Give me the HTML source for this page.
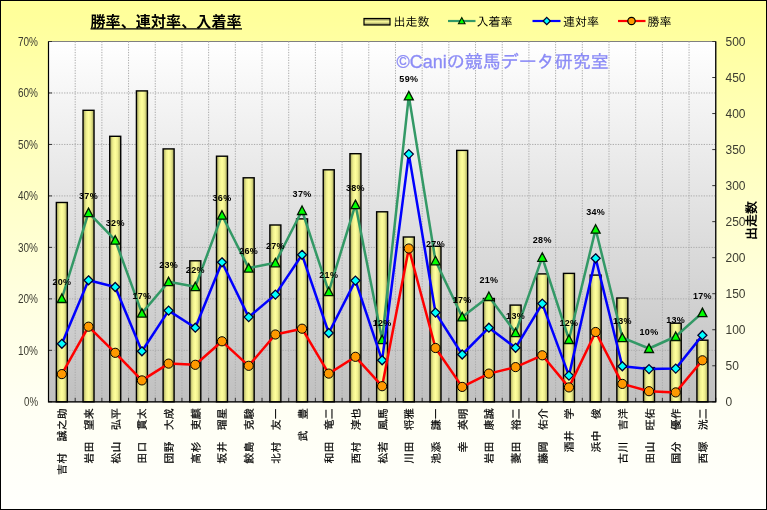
<!DOCTYPE html>
<html lang="ja"><head><meta charset="utf-8"><title>勝率、連対率、入着率</title>
<style>
html,body{margin:0;padding:0;background:#fff;}
body{width:767px;height:510px;overflow:hidden;position:relative;font-family:"Liberation Sans","IPAGothic","Noto Sans CJK JP",sans-serif;}
#chart{position:absolute;left:0;top:0;width:767px;height:510px;box-sizing:border-box;border:1px solid #000;background:linear-gradient(to bottom,#ffff99 0px,#ffff9c 20px,#ffffb2 100px,#ffffc9 200px,#ffffde 290px,#fffff3 400px,#fffffc 510px);}
svg{position:absolute;left:-1px;top:-1px;}
.ax{font-family:"Liberation Sans",sans-serif;font-size:12px;fill:#3c3c30;}
.cat{font-family:"IPAGothic","Noto Sans CJK JP",sans-serif;font-size:11px;letter-spacing:0.15px;fill:#000;stroke:#000;stroke-width:0.2px;}
.dl{font-family:"Liberation Sans",sans-serif;font-size:9px;font-weight:bold;fill:#000;letter-spacing:0.3px;}
.lg{font-family:"IPAGothic","Noto Sans CJK JP",sans-serif;font-size:12px;fill:#000;}
.ttl{font-family:"Noto Sans CJK JP","IPAGothic",sans-serif;font-size:15px;font-weight:bold;fill:#000;}
.wm{font-family:"Liberation Sans","IPAGothic","Noto Sans CJK JP",sans-serif;font-size:18px;fill:#8c8cf6;stroke:#8c8cf6;stroke-width:0.3px;}
.yt{font-family:"IPAGothic","Noto Sans CJK JP",sans-serif;font-size:13px;font-weight:bold;fill:#000;}
</style></head><body><div id="chart">
<svg width="767" height="510" viewBox="0 0 767 510">
<defs>
<linearGradient id="pg" x1="0" y1="0" x2="0" y2="1"><stop offset="0" stop-color="#ffffff"/><stop offset="1" stop-color="#c0c0c0"/></linearGradient>
<linearGradient id="bg" x1="0" y1="0" x2="1" y2="0"><stop offset="0" stop-color="#a0a05a"/><stop offset="0.28" stop-color="#eeee8e"/><stop offset="0.5" stop-color="#ffff9c"/><stop offset="0.72" stop-color="#eeee8e"/><stop offset="1" stop-color="#a0a05a"/></linearGradient>
<linearGradient id="lgb" x1="0" y1="0" x2="0" y2="1"><stop offset="0" stop-color="#77774a"/><stop offset="0.5" stop-color="#ffff9c"/><stop offset="1" stop-color="#77774a"/></linearGradient>
</defs>
<rect x="48.5" y="41.5" width="667.25" height="360.30" fill="url(#pg)" stroke="#808080" stroke-width="1"/>
<path d="M75.19 41.5V401.8M101.88 41.5V401.8M128.57 41.5V401.8M155.26 41.5V401.8M181.95 41.5V401.8M208.64 41.5V401.8M235.33 41.5V401.8M262.02 41.5V401.8M288.71 41.5V401.8M315.40 41.5V401.8M342.09 41.5V401.8M368.78 41.5V401.8M395.47 41.5V401.8M422.16 41.5V401.8M448.85 41.5V401.8M475.54 41.5V401.8M502.23 41.5V401.8M528.92 41.5V401.8M555.61 41.5V401.8M582.30 41.5V401.8M608.99 41.5V401.8M635.68 41.5V401.8M662.37 41.5V401.8M689.06 41.5V401.8M48.5 350.33H715.75M48.5 298.86H715.75M48.5 247.39H715.75M48.5 195.91H715.75M48.5 144.44H715.75M48.5 92.97H715.75" stroke="#ababab" stroke-width="1" stroke-dasharray="1.3 1.3" fill="none"/>
<rect x="56.34" y="202.50" width="11" height="199.30" fill="url(#bg)" stroke="#000" stroke-width="1.4"/>
<rect x="83.03" y="110.30" width="11" height="291.50" fill="url(#bg)" stroke="#000" stroke-width="1.4"/>
<rect x="109.73" y="136.30" width="11" height="265.50" fill="url(#bg)" stroke="#000" stroke-width="1.4"/>
<rect x="136.42" y="90.90" width="11" height="310.90" fill="url(#bg)" stroke="#000" stroke-width="1.4"/>
<rect x="163.11" y="148.90" width="11" height="252.90" fill="url(#bg)" stroke="#000" stroke-width="1.4"/>
<rect x="189.80" y="260.80" width="11" height="141.00" fill="url(#bg)" stroke="#000" stroke-width="1.4"/>
<rect x="216.49" y="156.20" width="11" height="245.60" fill="url(#bg)" stroke="#000" stroke-width="1.4"/>
<rect x="243.18" y="177.80" width="11" height="224.00" fill="url(#bg)" stroke="#000" stroke-width="1.4"/>
<rect x="269.87" y="225.00" width="11" height="176.80" fill="url(#bg)" stroke="#000" stroke-width="1.4"/>
<rect x="296.56" y="218.90" width="11" height="182.90" fill="url(#bg)" stroke="#000" stroke-width="1.4"/>
<rect x="323.25" y="169.80" width="11" height="232.00" fill="url(#bg)" stroke="#000" stroke-width="1.4"/>
<rect x="349.94" y="153.70" width="11" height="248.10" fill="url(#bg)" stroke="#000" stroke-width="1.4"/>
<rect x="376.62" y="211.80" width="11" height="190.00" fill="url(#bg)" stroke="#000" stroke-width="1.4"/>
<rect x="403.31" y="237.00" width="11" height="164.80" fill="url(#bg)" stroke="#000" stroke-width="1.4"/>
<rect x="430.00" y="246.30" width="11" height="155.50" fill="url(#bg)" stroke="#000" stroke-width="1.4"/>
<rect x="456.69" y="150.40" width="11" height="251.40" fill="url(#bg)" stroke="#000" stroke-width="1.4"/>
<rect x="483.39" y="298.50" width="11" height="103.30" fill="url(#bg)" stroke="#000" stroke-width="1.4"/>
<rect x="510.08" y="305.10" width="11" height="96.70" fill="url(#bg)" stroke="#000" stroke-width="1.4"/>
<rect x="536.77" y="273.90" width="11" height="127.90" fill="url(#bg)" stroke="#000" stroke-width="1.4"/>
<rect x="563.46" y="273.40" width="11" height="128.40" fill="url(#bg)" stroke="#000" stroke-width="1.4"/>
<rect x="590.14" y="275.10" width="11" height="126.70" fill="url(#bg)" stroke="#000" stroke-width="1.4"/>
<rect x="616.84" y="298.00" width="11" height="103.80" fill="url(#bg)" stroke="#000" stroke-width="1.4"/>
<rect x="643.52" y="367.60" width="11" height="34.20" fill="url(#bg)" stroke="#000" stroke-width="1.4"/>
<rect x="670.22" y="323.20" width="11" height="78.60" fill="url(#bg)" stroke="#000" stroke-width="1.4"/>
<rect x="696.91" y="340.20" width="11" height="61.60" fill="url(#bg)" stroke="#000" stroke-width="1.4"/>
<path d="M48.5 401.80h3.5M48.5 350.33h3.5M48.5 298.86h3.5M48.5 247.39h3.5M48.5 195.91h3.5M48.5 144.44h3.5M48.5 92.97h3.5M48.5 41.50h3.5M715.75 401.80h-3.5M715.75 365.77h-3.5M715.75 329.74h-3.5M715.75 293.71h-3.5M715.75 257.68h-3.5M715.75 221.65h-3.5M715.75 185.62h-3.5M715.75 149.59h-3.5M715.75 113.56h-3.5M715.75 77.53h-3.5M715.75 41.50h-3.5M48.50 401.8v-4M75.19 401.8v-4M101.88 401.8v-4M128.57 401.8v-4M155.26 401.8v-4M181.95 401.8v-4M208.64 401.8v-4M235.33 401.8v-4M262.02 401.8v-4M288.71 401.8v-4M315.40 401.8v-4M342.09 401.8v-4M368.78 401.8v-4M395.47 401.8v-4M422.16 401.8v-4M448.85 401.8v-4M475.54 401.8v-4M502.23 401.8v-4M528.92 401.8v-4M555.61 401.8v-4M582.30 401.8v-4M608.99 401.8v-4M635.68 401.8v-4M662.37 401.8v-4M689.06 401.8v-4M715.75 401.8v-4" stroke="#333" stroke-width="1" fill="none"/>
<path d="M48.5 41.5V401.8H715.75V41.5" stroke="#000" stroke-width="1.2" fill="none"/>
<polyline points="61.84,298.50 88.53,212.60 115.23,240.20 141.92,313.10 168.61,281.70 195.30,286.70 221.99,215.20 248.68,268.10 275.37,262.80 302.06,210.50 328.75,291.70 355.44,204.60 382.12,339.70 408.81,95.90 435.50,260.80 462.19,316.90 488.89,296.50 515.58,332.70 542.27,257.30 568.96,339.50 595.64,229.20 622.34,337.70 649.02,348.50 675.72,336.50 702.41,312.60" fill="none" stroke="#339966" stroke-width="2.5" stroke-linejoin="round"/>
<path d="M61.84 294.00L66.34 302.50H57.34Z" fill="#00ff00" stroke="#001a00" stroke-width="1.3" stroke-linejoin="miter"/>
<path d="M88.53 208.10L93.03 216.60H84.03Z" fill="#00ff00" stroke="#001a00" stroke-width="1.3" stroke-linejoin="miter"/>
<path d="M115.23 235.70L119.73 244.20H110.73Z" fill="#00ff00" stroke="#001a00" stroke-width="1.3" stroke-linejoin="miter"/>
<path d="M141.92 308.60L146.42 317.10H137.42Z" fill="#00ff00" stroke="#001a00" stroke-width="1.3" stroke-linejoin="miter"/>
<path d="M168.61 277.20L173.11 285.70H164.11Z" fill="#00ff00" stroke="#001a00" stroke-width="1.3" stroke-linejoin="miter"/>
<path d="M195.30 282.20L199.80 290.70H190.80Z" fill="#00ff00" stroke="#001a00" stroke-width="1.3" stroke-linejoin="miter"/>
<path d="M221.99 210.70L226.49 219.20H217.49Z" fill="#00ff00" stroke="#001a00" stroke-width="1.3" stroke-linejoin="miter"/>
<path d="M248.68 263.60L253.18 272.10H244.18Z" fill="#00ff00" stroke="#001a00" stroke-width="1.3" stroke-linejoin="miter"/>
<path d="M275.37 258.30L279.87 266.80H270.87Z" fill="#00ff00" stroke="#001a00" stroke-width="1.3" stroke-linejoin="miter"/>
<path d="M302.06 206.00L306.56 214.50H297.56Z" fill="#00ff00" stroke="#001a00" stroke-width="1.3" stroke-linejoin="miter"/>
<path d="M328.75 287.20L333.25 295.70H324.25Z" fill="#00ff00" stroke="#001a00" stroke-width="1.3" stroke-linejoin="miter"/>
<path d="M355.44 200.10L359.94 208.60H350.94Z" fill="#00ff00" stroke="#001a00" stroke-width="1.3" stroke-linejoin="miter"/>
<path d="M382.12 335.20L386.62 343.70H377.62Z" fill="#00ff00" stroke="#001a00" stroke-width="1.3" stroke-linejoin="miter"/>
<path d="M408.81 91.40L413.31 99.90H404.31Z" fill="#00ff00" stroke="#001a00" stroke-width="1.3" stroke-linejoin="miter"/>
<path d="M435.50 256.30L440.00 264.80H431.00Z" fill="#00ff00" stroke="#001a00" stroke-width="1.3" stroke-linejoin="miter"/>
<path d="M462.19 312.40L466.69 320.90H457.69Z" fill="#00ff00" stroke="#001a00" stroke-width="1.3" stroke-linejoin="miter"/>
<path d="M488.89 292.00L493.39 300.50H484.39Z" fill="#00ff00" stroke="#001a00" stroke-width="1.3" stroke-linejoin="miter"/>
<path d="M515.58 328.20L520.08 336.70H511.08Z" fill="#00ff00" stroke="#001a00" stroke-width="1.3" stroke-linejoin="miter"/>
<path d="M542.27 252.80L546.77 261.30H537.77Z" fill="#00ff00" stroke="#001a00" stroke-width="1.3" stroke-linejoin="miter"/>
<path d="M568.96 335.00L573.46 343.50H564.46Z" fill="#00ff00" stroke="#001a00" stroke-width="1.3" stroke-linejoin="miter"/>
<path d="M595.64 224.70L600.14 233.20H591.14Z" fill="#00ff00" stroke="#001a00" stroke-width="1.3" stroke-linejoin="miter"/>
<path d="M622.34 333.20L626.84 341.70H617.84Z" fill="#00ff00" stroke="#001a00" stroke-width="1.3" stroke-linejoin="miter"/>
<path d="M649.02 344.00L653.52 352.50H644.52Z" fill="#00ff00" stroke="#001a00" stroke-width="1.3" stroke-linejoin="miter"/>
<path d="M675.72 332.00L680.22 340.50H671.22Z" fill="#00ff00" stroke="#001a00" stroke-width="1.3" stroke-linejoin="miter"/>
<path d="M702.41 308.10L706.91 316.60H697.91Z" fill="#00ff00" stroke="#001a00" stroke-width="1.3" stroke-linejoin="miter"/>
<polyline points="61.84,343.80 88.53,280.30 115.23,287.00 141.92,351.30 168.61,310.60 195.30,327.70 221.99,262.30 248.68,317.10 275.37,294.60 302.06,254.80 328.75,333.00 355.44,280.60 382.12,360.30 408.81,154.10 435.50,312.60 462.19,354.50 488.89,327.70 515.58,347.80 542.27,303.60 568.96,375.60 595.64,258.30 622.34,366.30 649.02,369.10 675.72,368.60 702.41,335.20" fill="none" stroke="#0000ff" stroke-width="2.5" stroke-linejoin="round"/>
<path d="M61.84 339.30L66.34 343.80L61.84 348.30L57.34 343.80Z" fill="#00ffff" stroke="#000030" stroke-width="1.3"/>
<path d="M88.53 275.80L93.03 280.30L88.53 284.80L84.03 280.30Z" fill="#00ffff" stroke="#000030" stroke-width="1.3"/>
<path d="M115.23 282.50L119.73 287.00L115.23 291.50L110.73 287.00Z" fill="#00ffff" stroke="#000030" stroke-width="1.3"/>
<path d="M141.92 346.80L146.42 351.30L141.92 355.80L137.42 351.30Z" fill="#00ffff" stroke="#000030" stroke-width="1.3"/>
<path d="M168.61 306.10L173.11 310.60L168.61 315.10L164.11 310.60Z" fill="#00ffff" stroke="#000030" stroke-width="1.3"/>
<path d="M195.30 323.20L199.80 327.70L195.30 332.20L190.80 327.70Z" fill="#00ffff" stroke="#000030" stroke-width="1.3"/>
<path d="M221.99 257.80L226.49 262.30L221.99 266.80L217.49 262.30Z" fill="#00ffff" stroke="#000030" stroke-width="1.3"/>
<path d="M248.68 312.60L253.18 317.10L248.68 321.60L244.18 317.10Z" fill="#00ffff" stroke="#000030" stroke-width="1.3"/>
<path d="M275.37 290.10L279.87 294.60L275.37 299.10L270.87 294.60Z" fill="#00ffff" stroke="#000030" stroke-width="1.3"/>
<path d="M302.06 250.30L306.56 254.80L302.06 259.30L297.56 254.80Z" fill="#00ffff" stroke="#000030" stroke-width="1.3"/>
<path d="M328.75 328.50L333.25 333.00L328.75 337.50L324.25 333.00Z" fill="#00ffff" stroke="#000030" stroke-width="1.3"/>
<path d="M355.44 276.10L359.94 280.60L355.44 285.10L350.94 280.60Z" fill="#00ffff" stroke="#000030" stroke-width="1.3"/>
<path d="M382.12 355.80L386.62 360.30L382.12 364.80L377.62 360.30Z" fill="#00ffff" stroke="#000030" stroke-width="1.3"/>
<path d="M408.81 149.60L413.31 154.10L408.81 158.60L404.31 154.10Z" fill="#00ffff" stroke="#000030" stroke-width="1.3"/>
<path d="M435.50 308.10L440.00 312.60L435.50 317.10L431.00 312.60Z" fill="#00ffff" stroke="#000030" stroke-width="1.3"/>
<path d="M462.19 350.00L466.69 354.50L462.19 359.00L457.69 354.50Z" fill="#00ffff" stroke="#000030" stroke-width="1.3"/>
<path d="M488.89 323.20L493.39 327.70L488.89 332.20L484.39 327.70Z" fill="#00ffff" stroke="#000030" stroke-width="1.3"/>
<path d="M515.58 343.30L520.08 347.80L515.58 352.30L511.08 347.80Z" fill="#00ffff" stroke="#000030" stroke-width="1.3"/>
<path d="M542.27 299.10L546.77 303.60L542.27 308.10L537.77 303.60Z" fill="#00ffff" stroke="#000030" stroke-width="1.3"/>
<path d="M568.96 371.10L573.46 375.60L568.96 380.10L564.46 375.60Z" fill="#00ffff" stroke="#000030" stroke-width="1.3"/>
<path d="M595.64 253.80L600.14 258.30L595.64 262.80L591.14 258.30Z" fill="#00ffff" stroke="#000030" stroke-width="1.3"/>
<path d="M622.34 361.80L626.84 366.30L622.34 370.80L617.84 366.30Z" fill="#00ffff" stroke="#000030" stroke-width="1.3"/>
<path d="M649.02 364.60L653.52 369.10L649.02 373.60L644.52 369.10Z" fill="#00ffff" stroke="#000030" stroke-width="1.3"/>
<path d="M675.72 364.10L680.22 368.60L675.72 373.10L671.22 368.60Z" fill="#00ffff" stroke="#000030" stroke-width="1.3"/>
<path d="M702.41 330.70L706.91 335.20L702.41 339.70L697.91 335.20Z" fill="#00ffff" stroke="#000030" stroke-width="1.3"/>
<polyline points="61.84,374.10 88.53,326.70 115.23,352.80 141.92,380.40 168.61,363.60 195.30,364.80 221.99,341.30 248.68,365.80 275.37,334.50 302.06,328.70 328.75,373.60 355.44,356.80 382.12,386.20 408.81,248.50 435.50,348.00 462.19,386.90 488.89,373.60 515.58,367.10 542.27,355.30 568.96,387.40 595.64,332.00 622.34,383.90 649.02,391.20 675.72,392.40 702.41,360.30" fill="none" stroke="#ff0000" stroke-width="2.5" stroke-linejoin="round"/>
<circle cx="61.84" cy="374.10" r="4.6" fill="#ff9900" stroke="#000" stroke-width="1"/>
<circle cx="88.53" cy="326.70" r="4.6" fill="#ff9900" stroke="#000" stroke-width="1"/>
<circle cx="115.23" cy="352.80" r="4.6" fill="#ff9900" stroke="#000" stroke-width="1"/>
<circle cx="141.92" cy="380.40" r="4.6" fill="#ff9900" stroke="#000" stroke-width="1"/>
<circle cx="168.61" cy="363.60" r="4.6" fill="#ff9900" stroke="#000" stroke-width="1"/>
<circle cx="195.30" cy="364.80" r="4.6" fill="#ff9900" stroke="#000" stroke-width="1"/>
<circle cx="221.99" cy="341.30" r="4.6" fill="#ff9900" stroke="#000" stroke-width="1"/>
<circle cx="248.68" cy="365.80" r="4.6" fill="#ff9900" stroke="#000" stroke-width="1"/>
<circle cx="275.37" cy="334.50" r="4.6" fill="#ff9900" stroke="#000" stroke-width="1"/>
<circle cx="302.06" cy="328.70" r="4.6" fill="#ff9900" stroke="#000" stroke-width="1"/>
<circle cx="328.75" cy="373.60" r="4.6" fill="#ff9900" stroke="#000" stroke-width="1"/>
<circle cx="355.44" cy="356.80" r="4.6" fill="#ff9900" stroke="#000" stroke-width="1"/>
<circle cx="382.12" cy="386.20" r="4.6" fill="#ff9900" stroke="#000" stroke-width="1"/>
<circle cx="408.81" cy="248.50" r="4.6" fill="#ff9900" stroke="#000" stroke-width="1"/>
<circle cx="435.50" cy="348.00" r="4.6" fill="#ff9900" stroke="#000" stroke-width="1"/>
<circle cx="462.19" cy="386.90" r="4.6" fill="#ff9900" stroke="#000" stroke-width="1"/>
<circle cx="488.89" cy="373.60" r="4.6" fill="#ff9900" stroke="#000" stroke-width="1"/>
<circle cx="515.58" cy="367.10" r="4.6" fill="#ff9900" stroke="#000" stroke-width="1"/>
<circle cx="542.27" cy="355.30" r="4.6" fill="#ff9900" stroke="#000" stroke-width="1"/>
<circle cx="568.96" cy="387.40" r="4.6" fill="#ff9900" stroke="#000" stroke-width="1"/>
<circle cx="595.64" cy="332.00" r="4.6" fill="#ff9900" stroke="#000" stroke-width="1"/>
<circle cx="622.34" cy="383.90" r="4.6" fill="#ff9900" stroke="#000" stroke-width="1"/>
<circle cx="649.02" cy="391.20" r="4.6" fill="#ff9900" stroke="#000" stroke-width="1"/>
<circle cx="675.72" cy="392.40" r="4.6" fill="#ff9900" stroke="#000" stroke-width="1"/>
<circle cx="702.41" cy="360.30" r="4.6" fill="#ff9900" stroke="#000" stroke-width="1"/>
<text class="dl" x="61.84" y="284.50" text-anchor="middle">20%</text>
<text class="dl" x="88.53" y="198.60" text-anchor="middle">37%</text>
<text class="dl" x="115.23" y="226.20" text-anchor="middle">32%</text>
<text class="dl" x="141.92" y="299.10" text-anchor="middle">17%</text>
<text class="dl" x="168.61" y="267.70" text-anchor="middle">23%</text>
<text class="dl" x="195.30" y="272.70" text-anchor="middle">22%</text>
<text class="dl" x="221.99" y="201.20" text-anchor="middle">36%</text>
<text class="dl" x="248.68" y="254.10" text-anchor="middle">26%</text>
<text class="dl" x="275.37" y="248.80" text-anchor="middle">27%</text>
<text class="dl" x="302.06" y="196.50" text-anchor="middle">37%</text>
<text class="dl" x="328.75" y="277.70" text-anchor="middle">21%</text>
<text class="dl" x="355.44" y="190.60" text-anchor="middle">38%</text>
<text class="dl" x="382.12" y="325.70" text-anchor="middle">12%</text>
<text class="dl" x="408.81" y="81.90" text-anchor="middle">59%</text>
<text class="dl" x="435.50" y="246.80" text-anchor="middle">27%</text>
<text class="dl" x="462.19" y="302.90" text-anchor="middle">17%</text>
<text class="dl" x="488.89" y="282.50" text-anchor="middle">21%</text>
<text class="dl" x="515.58" y="318.70" text-anchor="middle">13%</text>
<text class="dl" x="542.27" y="243.30" text-anchor="middle">28%</text>
<text class="dl" x="568.96" y="325.50" text-anchor="middle">12%</text>
<text class="dl" x="595.64" y="215.20" text-anchor="middle">34%</text>
<text class="dl" x="622.34" y="323.70" text-anchor="middle">13%</text>
<text class="dl" x="649.02" y="334.50" text-anchor="middle">10%</text>
<text class="dl" x="675.72" y="322.50" text-anchor="middle">13%</text>
<text class="dl" x="702.41" y="298.60" text-anchor="middle">17%</text>
<text class="ax" x="38" y="406.10" text-anchor="end" textLength="14" lengthAdjust="spacingAndGlyphs">0%</text>
<text class="ax" x="38" y="354.63" text-anchor="end" textLength="20" lengthAdjust="spacingAndGlyphs">10%</text>
<text class="ax" x="38" y="303.16" text-anchor="end" textLength="20" lengthAdjust="spacingAndGlyphs">20%</text>
<text class="ax" x="38" y="251.69" text-anchor="end" textLength="20" lengthAdjust="spacingAndGlyphs">30%</text>
<text class="ax" x="38" y="200.21" text-anchor="end" textLength="20" lengthAdjust="spacingAndGlyphs">40%</text>
<text class="ax" x="38" y="148.74" text-anchor="end" textLength="20" lengthAdjust="spacingAndGlyphs">50%</text>
<text class="ax" x="38" y="97.27" text-anchor="end" textLength="20" lengthAdjust="spacingAndGlyphs">60%</text>
<text class="ax" x="38" y="45.80" text-anchor="end" textLength="20" lengthAdjust="spacingAndGlyphs">70%</text>
<text class="ax" x="725.5" y="406.10">0</text>
<text class="ax" x="725.5" y="370.07">50</text>
<text class="ax" x="725.5" y="334.04">100</text>
<text class="ax" x="725.5" y="298.01">150</text>
<text class="ax" x="725.5" y="261.98">200</text>
<text class="ax" x="725.5" y="225.95">250</text>
<text class="ax" x="725.5" y="189.92">300</text>
<text class="ax" x="725.5" y="153.89">350</text>
<text class="ax" x="725.5" y="117.86">400</text>
<text class="ax" x="725.5" y="81.83">450</text>
<text class="ax" x="725.5" y="45.80">500</text>
<text class="cat" transform="translate(66.34 408) rotate(-90)" text-anchor="end">吉村　誠之助</text>
<text class="cat" transform="translate(93.03 408) rotate(-90)" text-anchor="end">岩田　望来</text>
<text class="cat" transform="translate(119.73 408) rotate(-90)" text-anchor="end">松山　弘平</text>
<text class="cat" transform="translate(146.42 408) rotate(-90)" text-anchor="end">田口　貫太</text>
<text class="cat" transform="translate(173.11 408) rotate(-90)" text-anchor="end">団野　大成</text>
<text class="cat" transform="translate(199.80 408) rotate(-90)" text-anchor="end">高杉　吏麒</text>
<text class="cat" transform="translate(226.49 408) rotate(-90)" text-anchor="end">坂井　瑠星</text>
<text class="cat" transform="translate(253.18 408) rotate(-90)" text-anchor="end">鮫島　克駿</text>
<text class="cat" transform="translate(279.87 408) rotate(-90)" text-anchor="end">北村　友一</text>
<text class="cat" transform="translate(306.56 408) rotate(-90)" text-anchor="end">武　豊</text>
<text class="cat" transform="translate(333.25 408) rotate(-90)" text-anchor="end">和田　竜二</text>
<text class="cat" transform="translate(359.94 408) rotate(-90)" text-anchor="end">西村　淳也</text>
<text class="cat" transform="translate(386.62 408) rotate(-90)" text-anchor="end">松若　風馬</text>
<text class="cat" transform="translate(413.31 408) rotate(-90)" text-anchor="end">川田　将雅</text>
<text class="cat" transform="translate(440.00 408) rotate(-90)" text-anchor="end">池添　謙一</text>
<text class="cat" transform="translate(466.69 408) rotate(-90)" text-anchor="end">幸　英明</text>
<text class="cat" transform="translate(493.39 408) rotate(-90)" text-anchor="end">岩田　康誠</text>
<text class="cat" transform="translate(520.08 408) rotate(-90)" text-anchor="end">菱田　裕二</text>
<text class="cat" transform="translate(546.77 408) rotate(-90)" text-anchor="end">藤岡　佑介</text>
<text class="cat" transform="translate(573.46 408) rotate(-90)" text-anchor="end">酒井　学</text>
<text class="cat" transform="translate(600.14 408) rotate(-90)" text-anchor="end">浜中　俊</text>
<text class="cat" transform="translate(626.84 408) rotate(-90)" text-anchor="end">古川　吉洋</text>
<text class="cat" transform="translate(653.52 408) rotate(-90)" text-anchor="end">田山　旺佑</text>
<text class="cat" transform="translate(680.22 408) rotate(-90)" text-anchor="end">国分　優作</text>
<text class="cat" transform="translate(706.91 408) rotate(-90)" text-anchor="end">西塚　洸二</text>
<text class="yt" transform="translate(755.5 220.5) rotate(-90)" text-anchor="middle">出走数</text>
<text class="ttl" x="90.5" y="27" textLength="151" lengthAdjust="spacing">勝率、連対率、入着率</text>
<path d="M90.5 28.9H242" stroke="#000" stroke-width="1.3"/>
<text class="wm" x="396.5" y="67.7">©Caniの競馬データ研究室</text>
<rect x="364" y="18.5" width="26" height="6.5" fill="url(#lgb)" stroke="#000" stroke-width="1.2"/>
<text class="lg" x="393.5" y="26">出走数</text>
<path d="M448 21H475.5" stroke="#339966" stroke-width="2.2"/>
<path d="M461.75 17.60L465.05 23.80H458.45Z" fill="#00ff00" stroke="#001a00" stroke-width="1.1" stroke-linejoin="miter"/>
<text class="lg" x="476.5" y="26">入着率</text>
<path d="M532.5 21H560.5" stroke="#0000ff" stroke-width="2.2"/>
<path d="M546.75 17.40L550.35 21.00L546.75 24.60L543.15 21.00Z" fill="#00ffff" stroke="#000030" stroke-width="1.3"/>
<text class="lg" x="563" y="26">連対率</text>
<path d="M618 21H645.5" stroke="#ff0000" stroke-width="2.2"/>
<circle cx="631.5" cy="21" r="3.7" fill="#ff9900" stroke="#000" stroke-width="1.2"/>
<text class="lg" x="647.5" y="26">勝率</text>
</svg></div></body></html>
